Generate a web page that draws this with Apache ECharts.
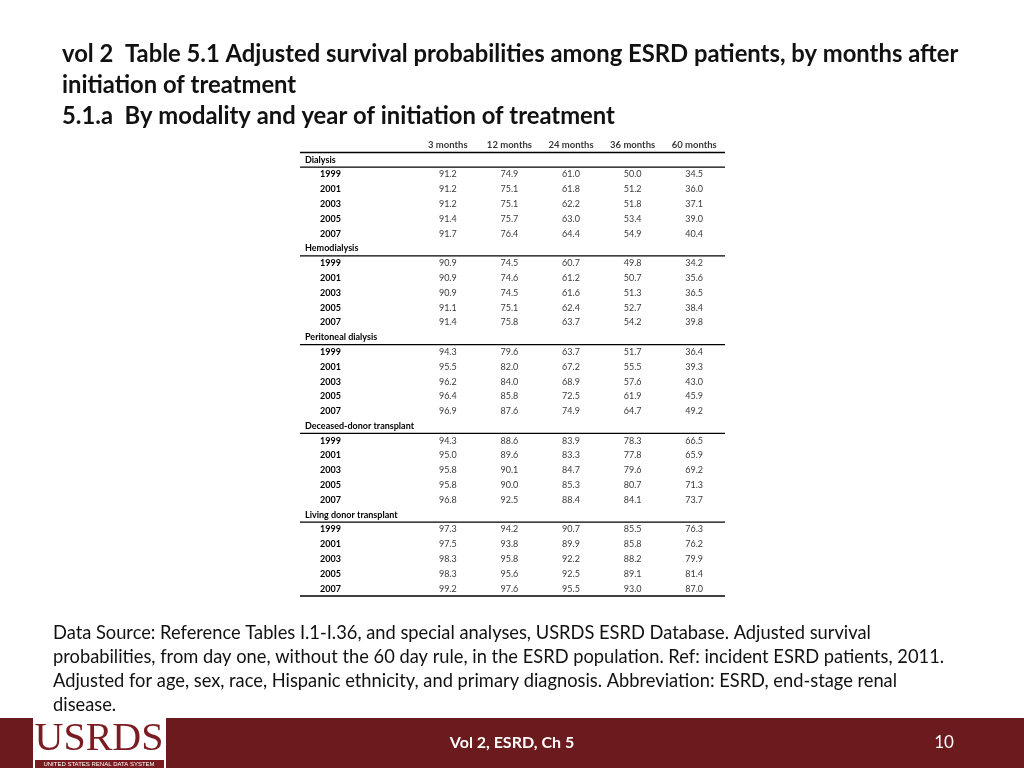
<!DOCTYPE html>
<html><head><meta charset="utf-8">
<script src="https://cdn.jsdelivr.net/npm/echarts@6/dist/echarts.min.js"></script>
<style>html,body{margin:0;padding:0;background:#fff}#c{width:1024px;height:768px}</style>
</head><body><div id="c"></div>
<script>
const columns = ['3 months','12 months','24 months','36 months','60 months'];
const groups = ['Dialysis','Hemodialysis','Peritoneal dialysis','Deceased-donor transplant','Living donor transplant'];
const years = ['1999','2001','2003','2005','2007'];
const dialysis = [[91.2,74.9,61.0,50.0,34.5],[91.2,75.1,61.8,51.2,36.0],[91.2,75.1,62.2,51.8,37.1],[91.4,75.7,63.0,53.4,39.0],[91.7,76.4,64.4,54.9,40.4]];
const hemodialysis = [[90.9,74.5,60.7,49.8,34.2],[90.9,74.6,61.2,50.7,35.6],[90.9,74.5,61.6,51.3,36.5],[91.1,75.1,62.4,52.7,38.4],[91.4,75.8,63.7,54.2,39.8]];
const peritoneal = [[94.3,79.6,63.7,51.7,36.4],[95.5,82.0,67.2,55.5,39.3],[96.2,84.0,68.9,57.6,43.0],[96.4,85.8,72.5,61.9,45.9],[96.9,87.6,74.9,64.7,49.2]];
const deceasedDonor = [[94.3,88.6,83.9,78.3,66.5],[95.0,89.6,83.3,77.8,65.9],[95.8,90.1,84.7,79.6,69.2],[95.8,90.0,85.3,80.7,71.3],[96.8,92.5,88.4,84.1,73.7]];
const livingDonor = [[97.3,94.2,90.7,85.5,76.3],[97.5,93.8,89.9,85.8,76.2],[98.3,95.8,92.2,88.2,79.9],[98.3,95.6,92.5,89.1,81.4],[99.2,97.6,95.5,93.0,87.0]];
const groupData = [dialysis, hemodialysis, peritoneal, deceasedDonor, livingDonor];

const rows = ['__header'];
const cells = [];
groups.forEach((g, gi) => {
  rows.push('g:' + g);
  years.forEach((y, yi) => {
    const r = rows.length;
    rows.push('y:' + gi + ':' + y);
    groupData[gi][yi].forEach((v, ci) => cells.push([ci, r, v]));
  });
});
const headerCells = columns.map((c, ci) => [ci, 0, c]);

const F = 'Lato, "Liberation Sans", sans-serif';
const chart = echarts.init(document.getElementById('c'));
const rowH = 14.79;
chart.setOption({
  animation: false,
  title: {
    text: 'vol 2  Table 5.1 Adjusted survival probabilities among ESRD patients, by months after\ninitiation of treatment\n5.1.a  By modality and year of initiation of treatment',
    left: 57, top: 34,
    textStyle: { fontFamily: F, fontSize: 23.8, fontWeight: 'bold', color: '#111', lineHeight: 31 }
  },
  grid: { left: 300, width: 425, top: 145 - rowH / 2, height: rowH * rows.length },
  xAxis: { type: 'value', min: -2.4, max: 4.5, show: false },
  yAxis: {
    type: 'category', data: rows, inverse: true,
    axisLine: { show: false }, axisTick: { show: false }, splitLine: { show: false },
    axisLabel: {
      inside: true, margin: 5, interval: 0,
      formatter: v => {
        if (v === '__header') return '';
        if (v.startsWith('g:')) return '{g|' + v.slice(2) + '}';
        return '{y|' + v.split(':')[2] + '}';
      },
      rich: {
        g: { fontFamily: F, fontSize: 9, fontWeight: 'bold', color: '#000' },
        y: { fontFamily: F, fontSize: 9, fontWeight: 'bold', color: '#000', padding: [0, 0, 0, 15] }
      }
    }
  },
  series: [
    { type: 'scatter', symbolSize: 0, data: cells,
      label: { show: true, position: 'inside', formatter: p => p.data[2].toFixed(1),
        fontFamily: F, fontSize: 9, color: '#000' } },
    { type: 'scatter', symbolSize: 0, data: headerCells,
      label: { show: true, position: 'inside', formatter: p => p.data[2],
        fontFamily: F, fontSize: 9.5, fontWeight: 'bold', color: '#000' } }
  ]
});

const graphics = [];
const xL = chart.convertToPixel({ gridIndex: 0 }, [-2.4, 0])[0];
const xR = chart.convertToPixel({ gridIndex: 0 }, [4.5, 0])[0];
function lineBelow(rowIdx, w) {
  const y = chart.convertToPixel({ gridIndex: 0 }, [0, rowIdx])[1] + rowH / 2;
  graphics.push({ type: 'line', shape: { x1: xL, y1: y, x2: xR, y2: y }, style: { stroke: '#000', lineWidth: w } });
}
lineBelow(0, 1.5);
rows.forEach((r, i) => { if (r.startsWith('g:')) lineBelow(i, 1.2); });
lineBelow(rows.length - 1, 1.5);

graphics.push(
  { type: 'text', left: 53, top: 621, style: { text: 'Data Source: Reference Tables I.1-I.36, and special analyses, USRDS ESRD Database. Adjusted survival\nprobabilities, from day one, without the 60 day rule, in the ESRD population. Ref: incident ESRD patients, 2011.\nAdjusted for age, sex, race, Hispanic ethnicity, and primary diagnosis. Abbreviation: ESRD, end-stage renal\ndisease.', font: '18.3px ' + F, fill: '#111', lineHeight: 24 } },
  { type: 'rect', shape: { x: 0, y: 718, width: 1024, height: 50 }, style: { fill: '#6b1a1d' } },
  { type: 'rect', shape: { x: 33, y: 713, width: 133, height: 55 }, style: { fill: '#fff' } },
  { type: 'text', x: 99, y: 739, style: { text: 'USRDS', font: '40px "Liberation Serif", serif', fill: '#7a1c22', align: 'center', verticalAlign: 'middle' } },
  { type: 'rect', shape: { x: 35, y: 760, width: 129, height: 8 }, style: { fill: '#7a1c22' } },
  { type: 'text', x: 99, y: 764, style: { text: 'UNITED STATES RENAL DATA SYSTEM', font: '6px "Liberation Sans"', fill: '#fff', align: 'center', verticalAlign: 'middle' } },
  { type: 'text', x: 512, y: 743, style: { text: 'Vol 2, ESRD, Ch 5', font: 'bold 16px ' + F, fill: '#fff', align: 'center', verticalAlign: 'middle' } },
  { type: 'text', x: 944, y: 743, style: { text: '10', font: '17px ' + F, fill: '#fff', align: 'center', verticalAlign: 'middle' } }
);
chart.setOption({ graphic: graphics });
</script></body></html>
